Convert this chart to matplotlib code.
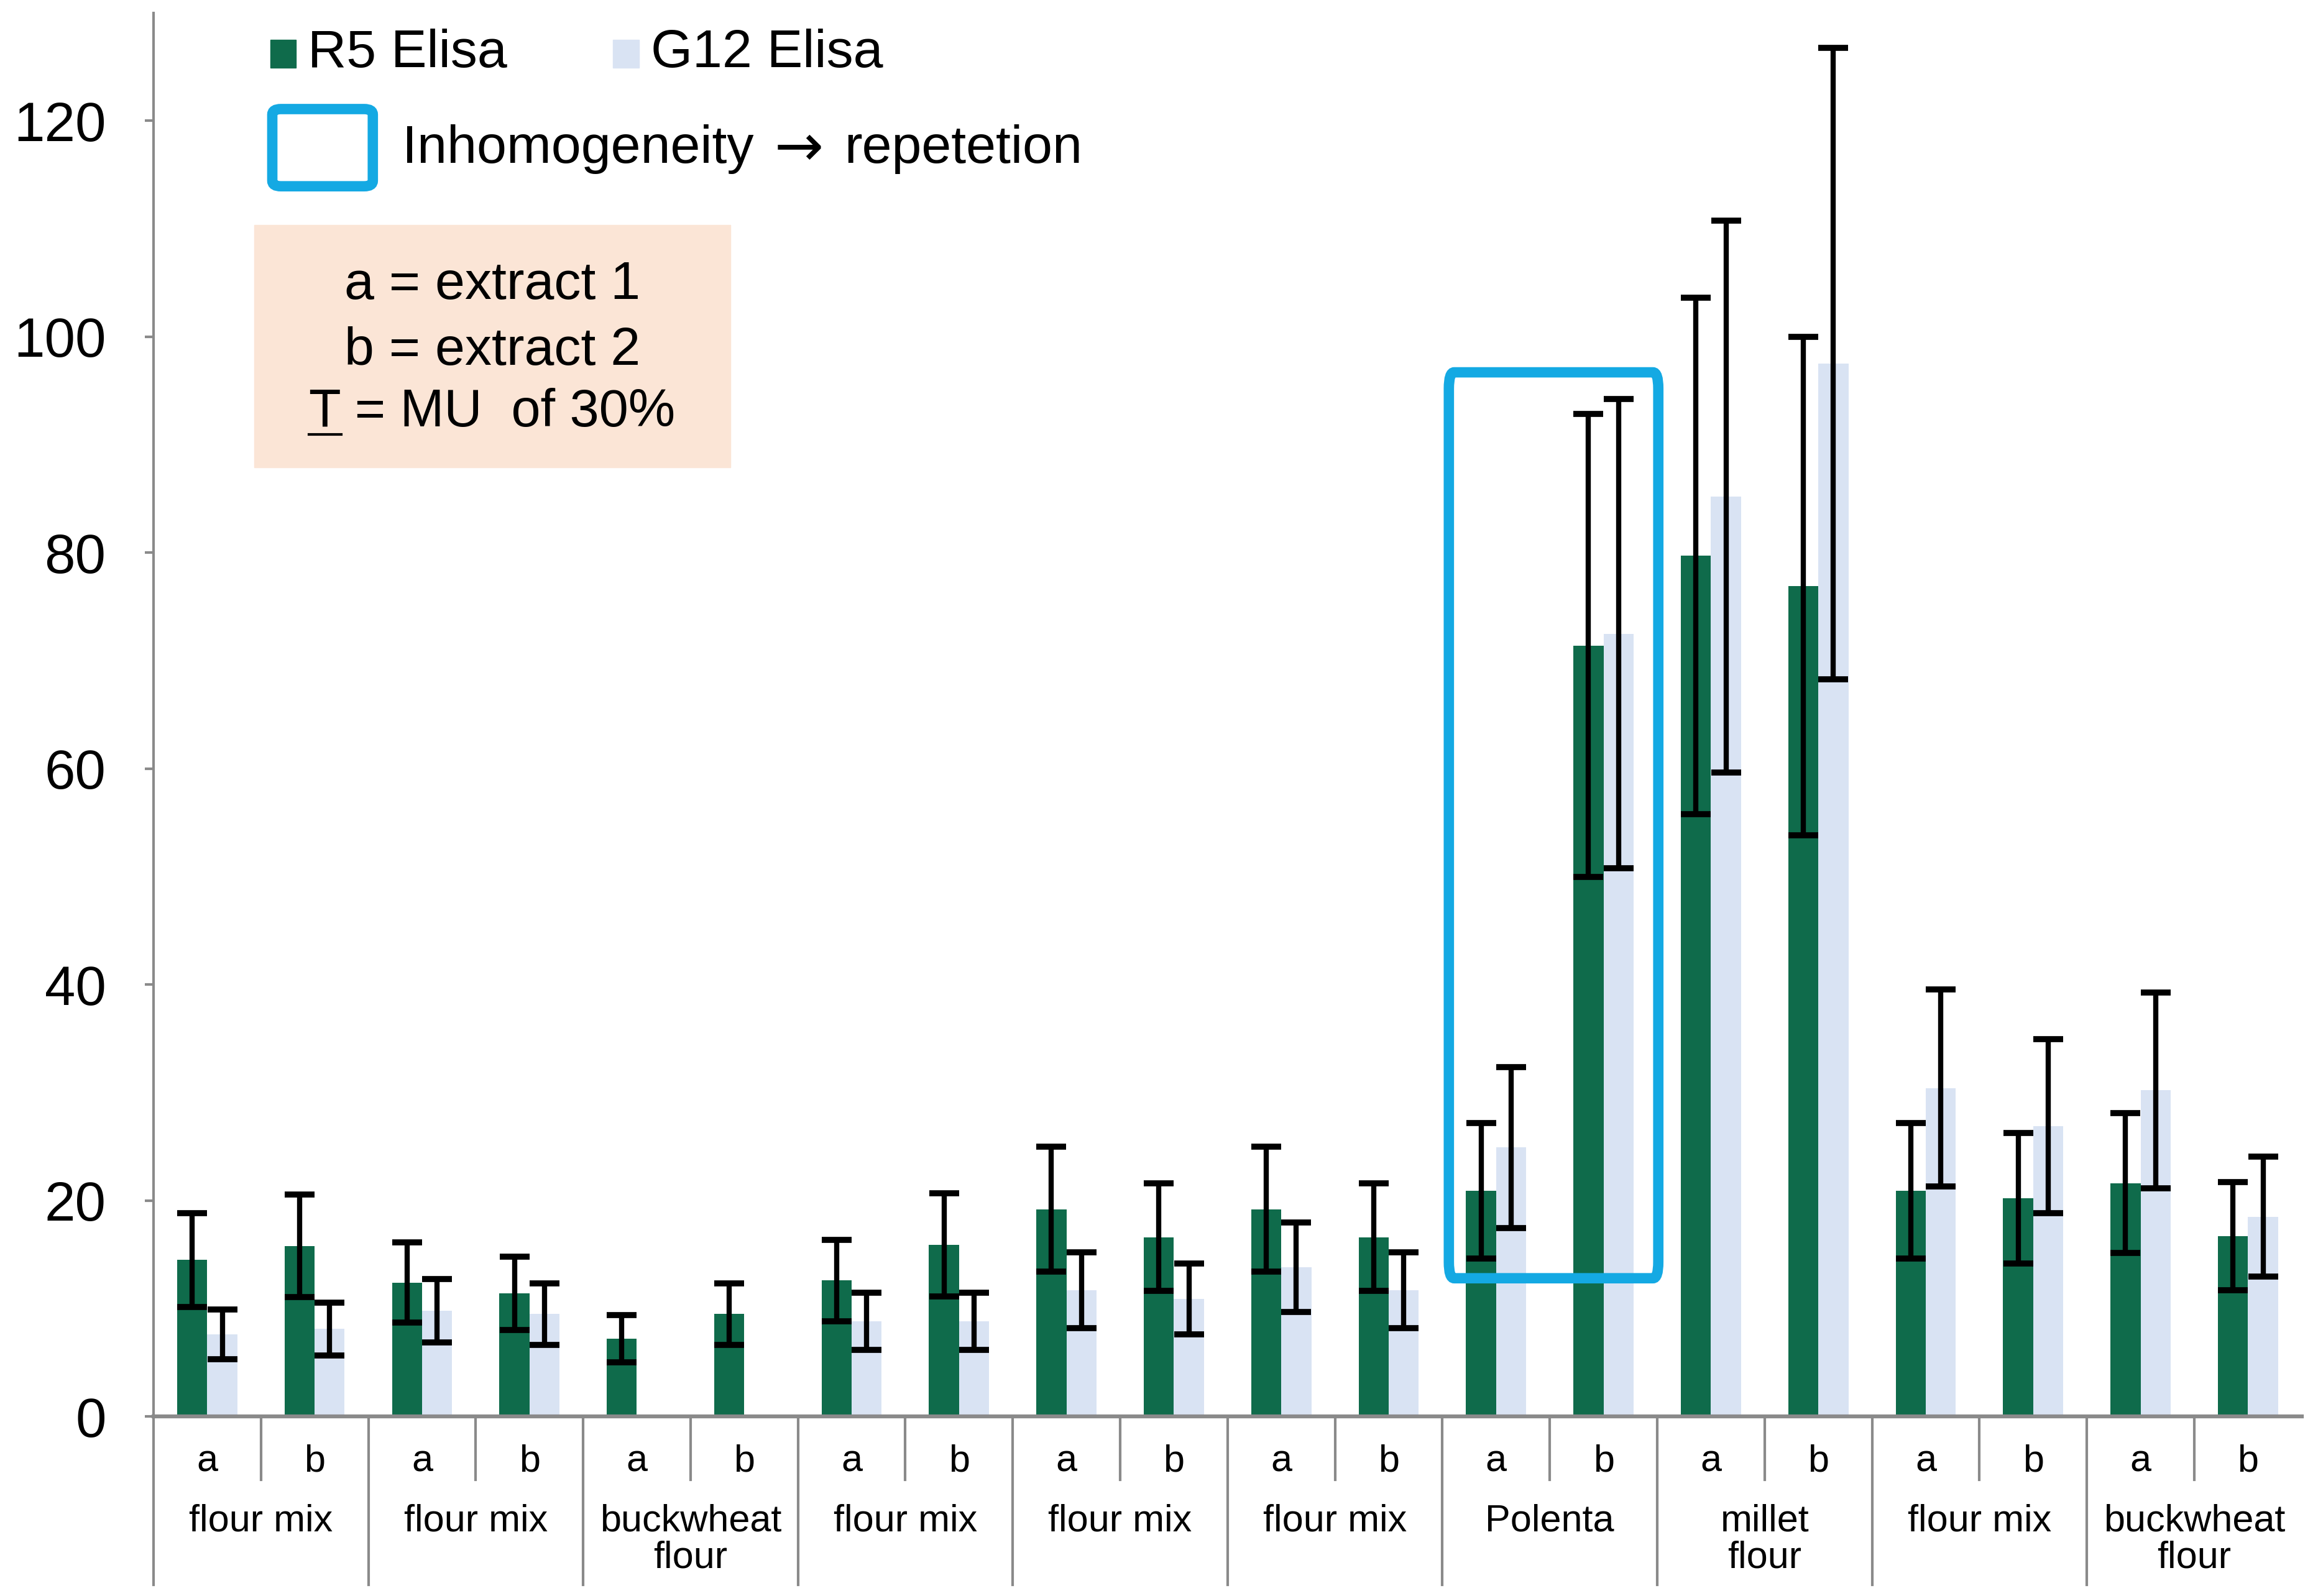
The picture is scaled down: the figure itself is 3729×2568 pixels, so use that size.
import matplotlib.pyplot as plt
import matplotlib.transforms as mtransforms
from matplotlib.patches import Rectangle, FancyBboxPatch
import numpy as np

plt.rcParams['font.family'] = ['Liberation Sans', 'DejaVu Sans']

# ---- data ----
groups = ['flour mix', 'flour mix', 'buckwheat\nflour', 'flour mix', 'flour mix',
          'flour mix', 'Polenta', 'millet\nflour', 'flour mix', 'buckwheat\nflour']
extracts = ['a', 'b']
r5_elisa = [14.5, 15.8, 12.4, 11.4, 7.2, 9.5, 12.6, 15.9, 19.2, 16.6,
            19.2, 16.6, 20.9, 71.4, 79.7, 76.9, 20.9, 20.2, 21.6, 16.7]
g12_elisa = [7.6, 8.1, 9.8, 9.5, np.nan, np.nan, 8.8, 8.8, 11.7, 10.9,
             13.8, 11.7, 24.9, 72.5, 85.2, 97.5, 30.4, 26.9, 30.2, 18.5]
mu = 0.30
yticks = [0, 20, 40, 60, 80, 100, 120]

green = '#0F6B4B'
lightblue = '#D9E3F3'
gray = '#8A8A8A'
cyan = '#14A9E3'
peach = '#FBE5D6'

r5 = np.array(r5_elisa)
g12 = np.array(g12_elisa)
x = np.arange(len(r5))
w = 0.28

fig = plt.figure(figsize=(37.3, 25.68), dpi=100)
ax = fig.add_axes([0.0662, 0.1125, 0.9265, 0.8795])

ax.bar(x - w / 2, r5, w, color=green, zorder=2)
ax.bar(x + w / 2, g12, w, color=lightblue, zorder=2)
ax.errorbar(x - w / 2, r5, yerr=mu * r5, fmt='none', ecolor='black',
            elinewidth=6, capsize=17, capthick=7, zorder=3)
ax.errorbar(x + w / 2, g12, yerr=mu * g12, fmt='none', ecolor='black',
            elinewidth=6, capsize=17, capthick=7, zorder=3)

ax.set_xlim(-0.5, len(r5) - 0.5)
ax.set_ylim(0, 130)
ax.set_yticks(yticks)
ax.tick_params(axis='y', direction='out', length=10, width=3, color=gray,
               pad=45, labelsize=64)
ax.set_xticks(x)
ax.set_xticklabels(extracts * len(groups))
ax.tick_params(axis='x', length=0, pad=32, labelsize=44)

for s in ['top', 'right']:
    ax.spines[s].set_visible(False)
ax.spines['left'].set_color(gray)
ax.spines['left'].set_linewidth(3)
ax.spines['bottom'].set_color(gray)
ax.spines['bottom'].set_linewidth(4.5)

# category dividers below the axis
trans = mtransforms.blended_transform_factory(ax.transData, ax.transAxes)
for i in range(len(groups)):
    ax.plot([2 * i - 0.5] * 2, [-0.12, 0], color=gray, lw=3,
            transform=trans, clip_on=False)
    ax.plot([2 * i + 0.5] * 2, [-0.045, 0], color=gray, lw=3,
            transform=trans, clip_on=False)
    ax.text(2 * i + 0.5, -0.062, groups[i], transform=trans, ha='center',
            va='top', fontsize=44, linespacing=1.05)

# highlight box around Polenta
ax.add_patch(FancyBboxPatch((11.56, 12.8), 13.51 - 11.56, 96.7 - 12.8,
                            boxstyle='round,pad=0,rounding_size=0.05',
                            fill=False, edgecolor=cyan, lw=12, zorder=4,
                            mutation_aspect=30))

# legend
ax.add_patch(Rectangle((0.0544, 0.961), 0.0119, 0.0199, color=green,
                       transform=ax.transAxes, clip_on=False))
ax.text(0.0718, 0.971, 'R5 Elisa', transform=ax.transAxes, fontsize=62,
        va='center', ha='left')
ax.add_patch(Rectangle((0.214, 0.961), 0.0119, 0.0199, color=lightblue,
                       transform=ax.transAxes, clip_on=False))
ax.text(0.2315, 0.971, 'G12 Elisa', transform=ax.transAxes, fontsize=62,
        va='center', ha='left')

ax.add_patch(FancyBboxPatch((0.0553, 0.8764), 0.0468, 0.055,
                            boxstyle='round,pad=0,rounding_size=0.004',
                            fill=False, edgecolor=cyan, lw=12,
                            transform=ax.transAxes, clip_on=False))
ax.text(0.1157, 0.903, 'Inhomogeneity', transform=ax.transAxes,
        fontsize=62, va='center', ha='left')
ax.text(0.3003, 0.903, '\u2192', transform=ax.transAxes, family='DejaVu Sans',
        fontsize=68, va='center', ha='center')
ax.text(0.3215, 0.903, 'repetetion', transform=ax.transAxes,
        fontsize=62, va='center', ha='left')

# note box
ax.add_patch(Rectangle((0.0469, 0.6763), 0.2216, 0.1727, color=peach,
                       transform=ax.transAxes, zorder=1))
ax.text(0.1577, 0.806, 'a = extract 1', transform=ax.transAxes, fontsize=62,
        ha='center', va='center')
ax.text(0.1577, 0.759, 'b = extract 2', transform=ax.transAxes, fontsize=62,
        ha='center', va='center')
t3 = ax.text(0.1577, 0.7152, 'T = MU  of 30%', transform=ax.transAxes,
             fontsize=61, ha='center', va='center')

# underline the T
fig.canvas.draw()
rend = fig.canvas.get_renderer()
bb = t3.get_window_extent(rend)
tw = ax.text(0, 0, 'T', fontsize=61)
tb = tw.get_window_extent(rend)
tw.remove()
inv = ax.transAxes.inverted()
(x0, y0) = inv.transform((bb.x0, bb.y0))
(x1, _) = inv.transform((bb.x0 + tb.width, bb.y0))
ax.plot([x0, x1], [y0 + 0.002, y0 + 0.002], color='black', lw=3,
        transform=ax.transAxes, clip_on=False)

fig.savefig('out.png', dpi=100)
